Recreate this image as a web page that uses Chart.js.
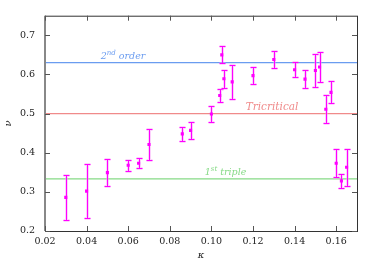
<!DOCTYPE html>
<html>
<head>
<meta charset="utf-8">
<script src="https://cdn.jsdelivr.net/npm/chart.js@4.4.0/dist/chart.umd.min.js"></script>
<style>
  html, body { margin: 0; padding: 0; background: #fff; }
  #wrap { width: 374px; height: 262px; }
</style>
</head>
<body>
<div id="wrap"><canvas id="c"></canvas></div>
<script>
/* DATA */
var kappa = [0.030, 0.040, 0.050, 0.060, 0.065, 0.070, 0.086, 0.090, 0.100, 0.104, 0.105, 0.106,
             0.110, 0.120, 0.130, 0.140, 0.145, 0.150, 0.152, 0.155, 0.1575, 0.160, 0.1625, 0.165];
var nu    = [0.286, 0.302, 0.349, 0.368, 0.373, 0.421, 0.448, 0.457, 0.499, 0.546, 0.650, 0.589,
             0.581, 0.597, 0.638, 0.612, 0.588, 0.610, 0.619, 0.511, 0.554, 0.373, 0.328, 0.363];
var nuErr = [0.058, 0.070, 0.035, 0.014, 0.013, 0.039, 0.017, 0.022, 0.020, 0.016, 0.022, 0.023,
             0.044, 0.021, 0.021, 0.019, 0.023, 0.042, 0.039, 0.036, 0.028, 0.036, 0.018, 0.047];
var refValues = [0.63, 0.5, 1 / 3];
var refColors = ['#6a9cf0', '#f08a8a', '#86da86'];
var refLabels = [['2', 'nd', ' order'], ['Tricritical', '', ''], ['1', 'st', ' triple']];
var refLabelX = [0.0468, 0.1165, 0.0968];
var xTicks = [0.02, 0.04, 0.06, 0.08, 0.10, 0.12, 0.14, 0.16];
var yTicks = [0.2, 0.3, 0.4, 0.5, 0.6, 0.7];

var SERIF = "'DejaVu Serif', serif";

/* reference lines + labels, drawn under the points */
var refLinesPlugin = {
  id: 'refLines',
  beforeDatasetsDraw: function (chart) {
    var ctx = chart.ctx, xs = chart.scales.x, ys = chart.scales.y, area = chart.chartArea;
    ctx.save();
    refValues.forEach(function (v, i) {
      var y = ys.getPixelForValue(v);
      ctx.strokeStyle = refColors[i];
      ctx.lineWidth = 1.2;
      ctx.beginPath();
      ctx.moveTo(area.left, y);
      ctx.lineTo(area.right, y);
      ctx.stroke();
      /* label */
      var lbl = refLabels[i];
      var x = xs.getPixelForValue(refLabelX[i]);
      var base = y - 4;
      ctx.fillStyle = refColors[i];
      ctx.textBaseline = 'alphabetic';
      ctx.textAlign = 'left';
      ctx.font = 'italic 9.5px ' + SERIF;
      if (i === 1) ctx.font = 'italic 10.5px ' + SERIF;
      ctx.fillText(lbl[0], x, base);
      x += ctx.measureText(lbl[0]).width;
      if (lbl[1]) {
        ctx.font = 'italic 7px ' + SERIF;
        ctx.fillText(lbl[1], x, base - 4);
        x += ctx.measureText(lbl[1]).width;
        ctx.font = 'italic 9.5px ' + SERIF;
        ctx.fillText(lbl[2], x, base);
      }
    });
    ctx.restore();
  }
};

/* error bars */
var errorBarsPlugin = {
  id: 'errorBars',
  beforeDatasetsDraw: function (chart) {
    var ctx = chart.ctx, xs = chart.scales.x, ys = chart.scales.y;
    ctx.save();
    kappa.forEach(function (k, i) {
      var x = Math.round(xs.getPixelForValue(k)) + 0.5;
      var y1 = Math.round(ys.getPixelForValue(nu[i] + nuErr[i])) + 0.5;
      var y2 = Math.round(ys.getPixelForValue(nu[i] - nuErr[i])) + 0.5;
      [['rgba(248,150,248,0.45)', 3], ['#ff00ff', 1]].forEach(function (st) {
        ctx.strokeStyle = st[0];
        ctx.lineWidth = st[1];
        ctx.beginPath();
        ctx.moveTo(x, y1); ctx.lineTo(x, y2);
        ctx.moveTo(x - 3, y1); ctx.lineTo(x + 3, y1);
        ctx.moveTo(x - 3, y2); ctx.lineTo(x + 3, y2);
        ctx.stroke();
      });
    });
    ctx.restore();
  }
};

/* frame with inward ticks on all sides + axis symbols */
var framePlugin = {
  id: 'frame',
  afterDraw: function (chart) {
    var ctx = chart.ctx, xs = chart.scales.x, ys = chart.scales.y, a = chart.chartArea;
    ctx.save();
    ctx.strokeStyle = '#333';
    ctx.lineWidth = 1;
    ctx.strokeRect(a.left + 0.5, a.top + 0.5, a.right - a.left, a.bottom - a.top);
    ctx.strokeStyle = '#888';
    ctx.lineWidth = 2;
    ctx.beginPath();
    ctx.moveTo(a.left, a.top); ctx.lineTo(a.left, a.bottom);
    ctx.stroke();
    ctx.strokeStyle = '#555';
    ctx.lineWidth = 1;
    ctx.beginPath();
    xTicks.forEach(function (t) {
      var x = Math.round(xs.getPixelForValue(t)) + 0.5;
      ctx.moveTo(x, a.bottom); ctx.lineTo(x, a.bottom - 5);
      ctx.moveTo(x, a.top); ctx.lineTo(x, a.top + 5);
    });
    yTicks.forEach(function (t) {
      var y = Math.round(ys.getPixelForValue(t)) + 0.5;
      ctx.moveTo(a.left, y); ctx.lineTo(a.left + 5, y);
      ctx.moveTo(a.right, y); ctx.lineTo(a.right - 5, y);
    });
    ctx.stroke();
    ctx.fillStyle = '#222';
    ctx.font = 'italic 10px ' + SERIF;
    ctx.textAlign = 'center';
    ctx.textBaseline = 'middle';
    ctx.fillText('κ', (a.left + a.right) / 2, 255);
    ctx.save();
    ctx.translate(8, (a.top + a.bottom) / 2);
    ctx.rotate(-Math.PI / 2);
    ctx.fillText('ν', 0, 0);
    ctx.restore();
    ctx.restore();
  }
};

var chart = new Chart(document.getElementById('c'), {
  type: 'scatter',
  data: {
    datasets: [{
      data: kappa.map(function (k, i) { return { x: k, y: nu[i] }; }),
      pointStyle: 'rect',
      pointRadius: 2.2,
      backgroundColor: '#ff00ff',
      borderColor: '#ff00ff',
      borderWidth: 0
    }]
  },
  options: {
    responsive: true,
    maintainAspectRatio: false,
    animation: false,
    layout: { padding: { left: 0, right: 17, top: 11, bottom: 0 } },
    plugins: { legend: { display: false }, tooltip: { enabled: false } },
    scales: {
      x: {
        type: 'linear', min: 0.02, max: 0.17,
        grid: { display: false, drawTicks: false },
        border: { display: false },
        afterBuildTicks: function (s) { s.ticks = xTicks.map(function (v) { return { value: v }; }); },
        afterFit: function (s) { s.height = 31; },
        ticks: {
          padding: 5, color: '#222',
          font: { family: SERIF, size: 9.5 },
          callback: function (v) { return Number(v).toFixed(2); }
        }
      },
      y: {
        min: 0.2, max: 0.75,
        grid: { display: false, drawTicks: false },
        border: { display: false },
        afterBuildTicks: function (s) { s.ticks = yTicks.map(function (v) { return { value: v }; }); },
        afterFit: function (s) { s.width = 45; },
        ticks: {
          padding: 10, color: '#222',
          font: { family: SERIF, size: 9.5 },
          callback: function (v) { return Number(v).toFixed(1); }
        }
      }
    }
  },
  plugins: [refLinesPlugin, errorBarsPlugin, framePlugin]
});
</script>
</body>
</html>
